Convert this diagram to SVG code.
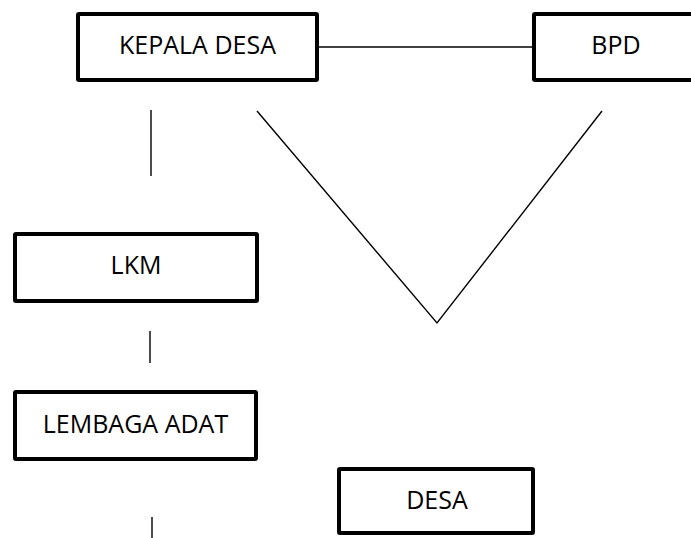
<svg xmlns="http://www.w3.org/2000/svg" width="691" height="538" viewBox="0 0 691 538">
  <style>
    .box { fill: #ffffff; stroke: #000000; stroke-width: 4; }
    .lbl { font-family: "Open Sans", "Liberation Sans", sans-serif; font-size: 25px; fill: #000000; text-anchor: middle; }
    .ln { stroke: #000000; stroke-width: 1.4; fill: none; }
  </style>
  <rect x="0" y="0" width="691" height="538" fill="#ffffff"/>
  <g id="connectors">
    <line class="ln" x1="319" y1="47" x2="532" y2="47"/>
    <line class="ln" x1="151" y1="110" x2="151" y2="176"/>
    <line class="ln" x1="150" y1="331" x2="150" y2="363"/>
    <line class="ln" x1="152" y1="517" x2="152" y2="538"/>
    <polyline class="ln" points="257,111 437,323 602,111"/>
  </g>
  <g id="kepala-desa">
    <rect class="box" x="78" y="14" width="239" height="66" rx="1"/>
    <text class="lbl" x="197.5" y="54">KEPALA DESA</text>
  </g>
  <g id="bpd">
    <rect class="box" x="534" y="14" width="200" height="66" rx="1"/>
    <text class="lbl" x="616" y="54">BPD</text>
  </g>
  <g id="lkm">
    <rect class="box" x="15" y="234" width="242" height="67" rx="1"/>
    <text class="lbl" x="136" y="274">LKM</text>
  </g>
  <g id="lembaga-adat">
    <rect class="box" x="15" y="392" width="241" height="67" rx="1"/>
    <text class="lbl" x="135.5" y="432.5">LEMBAGA ADAT</text>
  </g>
  <g id="desa">
    <rect class="box" x="339" y="469" width="194" height="64" rx="1"/>
    <text class="lbl" x="437" y="509">DESA</text>
  </g>
</svg>
